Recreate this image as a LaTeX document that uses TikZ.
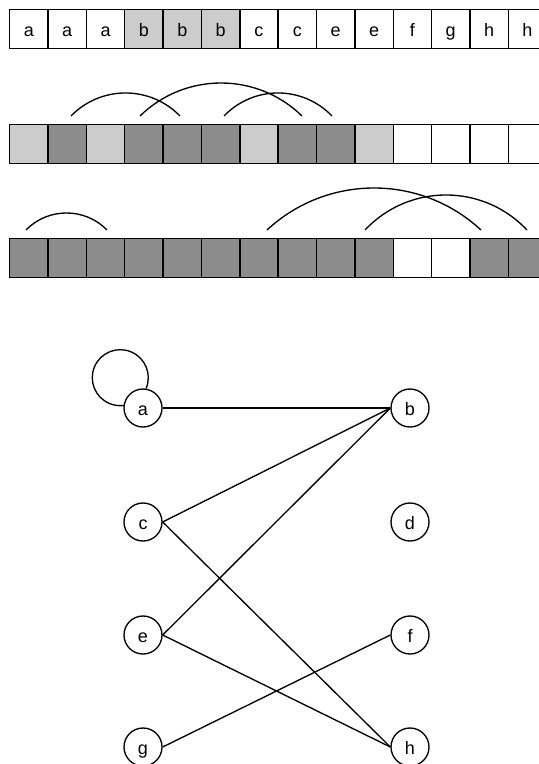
\documentclass[tikz,border=0pt]{standalone}
\usepackage{fontspec}
\setmainfont{Liberation Sans}
\begin{document}
\begin{tikzpicture}[x=0.75pt,y=-0.75pt,
  cell/.style={draw, line width=1.05pt, minimum width=28.76pt, minimum height=29.25pt,
    inner sep=0pt, anchor=north west, text height=11.6pt, text depth=0pt,
    font=\fontsize{13.5}{15}\selectfont},
  wt/.style={fill=white},
  lt/.style={fill=black!20},
  dk/.style={fill=black!45},
  vx/.style={draw, circle, line width=1pt, minimum size=28.5pt, inner sep=0pt,
    text height=11.2pt, text depth=0pt, font=\fontsize{13.5}{15}\selectfont},
  link/.style={line width=1pt},
  arcline/.style={line width=1pt}]
\useasboundingbox (0,0) rectangle (539,764);

% row 1
\foreach \t/\s [count=\i] in {a/wt,a/wt,a/wt,b/lt,b/lt,b/lt,c/wt,c/wt,e/wt,e/wt,f/wt,g/wt,h/wt,h/wt}
  \node[cell,\s] (ra\i) at ({9+38.35*(\i-1)},9) {\t};

% row 2
\foreach \s [count=\i] in {lt,dk,lt,dk,dk,dk,lt,dk,dk,lt,wt,wt,wt,wt}
  \node[cell,\s] (rb\i) at ({9+38.35*(\i-1)},124) {};

% row 3
\foreach \s [count=\i] in {dk,dk,dk,dk,dk,dk,dk,dk,dk,dk,wt,wt,dk,dk}
  \node[cell,\s] (rc\i) at ({9+38.35*(\i-1)},238) {};

% arc end points, row 2
\coordinate (p1) at (71,116);  \coordinate (q1) at (180,116);
\coordinate (p2) at (140,116); \coordinate (q2) at (302,116);
\coordinate (p3) at (224,116); \coordinate (q3) at (332,116);
\draw[arcline] (p1) .. controls +(29.9,-30.7) and +(-29.9,-30.7) .. (q1);
\draw[arcline] (p2) .. controls +(45,-44) and +(-45,-44) .. (q2);
\draw[arcline] (p3) .. controls +(29.5,-30.7) and +(-29.5,-30.7) .. (q3);

% arc end points, row 3
\coordinate (s1) at (26,230);  \coordinate (t1) at (107,230);
\coordinate (s2) at (267,230); \coordinate (t2) at (481,230);
\coordinate (s3) at (365,230); \coordinate (t3) at (527,230);
\draw[arcline] (s1) .. controls +(22.2,-22.7) and +(-22.2,-22.7) .. (t1);
\draw[arcline] (s2) .. controls +(60.3,-56) and +(-60.3,-56) .. (t2);
\draw[arcline] (s3) .. controls +(43.9,-46.7) and +(-43.9,-46.7) .. (t3);

% graph
\node[vx] (a) at (143,408) {a};
\node[vx] (b) at (410,408) {b};
\node[vx] (c) at (143,522) {c};
\node[vx] (d) at (410,522) {d};
\node[vx] (e) at (143,635) {e};
\node[vx] (f) at (410,635) {f};
\node[vx] (g) at (143,747) {g};
\node[vx] (h) at (410,747) {h};

\coordinate (loopstart) at (a.81);
\draw[link] (loopstart) arc[start angle=22.9, end angle=-278.1, radius=28];

\draw[link] (a.east) -- (b.west);
\draw[link] (c.east) -- (b.west);
\draw[link] (e.east) -- (b.west);
\draw[link] (c.east) -- (h.west);
\draw[link] (e.east) -- (h.west);
\draw[link] (g.east) -- (f.west);
\end{tikzpicture}
\end{document}
